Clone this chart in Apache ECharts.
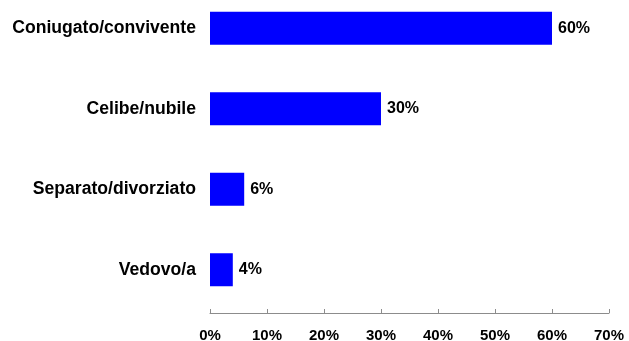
<!DOCTYPE html>
<html>
<head>
<meta charset="utf-8">
<script src="https://cdn.jsdelivr.net/npm/echarts@6/dist/echarts.min.js"></script>
<style>
  html, body { margin: 0; padding: 0; background: #fff; }
  #chart { width: 629px; height: 341px; }
</style>
</head>
<body>
<div id="chart"></div>
<script>
// Stato civile: share of respondents (%)
var categories = ['Coniugato/convivente', 'Celibe/nubile', 'Separato/divorziato', 'Vedovo/a'];
var values = [60, 30, 6, 4];
var axisTicks = [0, 10, 20, 30, 40, 50, 60, 70];

var FONT = 'Arial, "Liberation Sans", Helvetica, sans-serif';

var chart = echarts.init(document.getElementById('chart'), null, { renderer: 'canvas' });
chart.setOption({
  animation: false,
  backgroundColor: '#ffffff',
  grid: {
    left: 210, right: 20, top: -12, bottom: 31,
    containLabel: false,
    outerBoundsMode: 'none'
  },
  xAxis: {
    type: 'value',
    min: axisTicks[0],
    max: axisTicks[axisTicks.length - 1],
    interval: axisTicks[1] - axisTicks[0],
    offset: 3,
    axisLine: { show: true, lineStyle: { color: '#8c8c8c', width: 1 } },
    axisTick: { show: true, inside: true, length: 4, lineStyle: { color: '#8c8c8c' } },
    splitLine: { show: false },
    axisLabel: {
      margin: 15,
      color: '#000',
      fontFamily: FONT,
      fontWeight: 'bold',
      fontSize: 15,
      formatter: function (v) { return v + '%'; }
    }
  },
  yAxis: {
    type: 'category',
    inverse: true,
    data: categories,
    axisLine: { show: false },
    axisTick: { show: false },
    axisLabel: {
      margin: 14,
      color: '#000',
      fontFamily: FONT,
      fontWeight: 'bold',
      fontSize: 17.6
    }
  },
  series: [{
    type: 'bar',
    data: values,
    barWidth: 33,
    itemStyle: { color: '#0000ff' },
    label: {
      show: true,
      position: 'right',
      distance: 6,
      color: '#000',
      fontFamily: FONT,
      fontWeight: 'bold',
      fontSize: 16,
      formatter: function (p) { return p.value + '%'; }
    }
  }]
});
</script>
</body>
</html>
